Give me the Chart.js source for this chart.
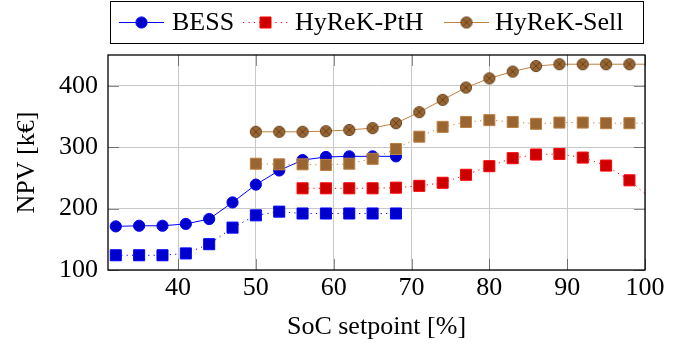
<!DOCTYPE html>
<html><head><meta charset="utf-8">
<script src="https://cdn.jsdelivr.net/npm/chart.js@4.4.1/dist/chart.umd.min.js"></script>
<style>html,body{margin:0;padding:0;background:#fff;}#wrap{width:694px;height:347px;}</style>
</head><body><div id="wrap"><canvas id="c" width="694" height="347"></canvas></div>
<script>
// ---- data ----
const socBESS   = [32,35,38,41,44,47,50,53,56,59,62,65,68];
const npvBESS   = [171,172,172,175,183,210,239,262,279,284,285,285,285];
const npvBESSsq = [124,124,124,127,142,169,189,195,192,192,192,192,192];
const socPtH    = [56,59,62,65,68,71,74,77,80,83,86,89,92,95,98,101];
const npvPtH    = [233,233,233,233,234,237,242,255,269,282,288,289,283,270,246,213];
const socSell   = [50,53,56,59,62,65,68,71,74,77,80,83,86,89,92,95,98,101];
const npvSell   = [325,325,325,326,328,331,339,357,377,397,412,423,432,435,435,435,435,435];
const npvSellSq = [273,272,272,271,273,281,297,317,333,341,344,341,338,340,340,339,339,339];
const xTicks = [40,50,60,70,80,90,100];
const yTicks = [100,200,300,400];
const legendLabels = ['BESS','HyReK-PtH','HyReK-Sell'];
const xTitle = 'SoC setpoint [%]';
const yTitle = 'NPV [k€]';

const FONT_FAMILY = '"Liberation Serif", "DejaVu Serif", serif';
const FS = 26;
const pts = (xs, ys) => xs.map((x, i) => ({x: x, y: ys[i]}));

function makeOtimes(r, fill, stroke) {
  const s = Math.ceil(2 * r + 2);
  const c = document.createElement('canvas');
  c.width = s; c.height = s;
  const g = c.getContext('2d');
  const cx = s / 2, cy = s / 2;
  g.beginPath(); g.arc(cx, cy, r, 0, Math.PI * 2);
  g.fillStyle = fill; g.fill();
  g.lineWidth = 0.9; g.strokeStyle = stroke; g.stroke();
  const d = r * Math.SQRT1_2;
  g.beginPath();
  g.moveTo(cx - d, cy - d); g.lineTo(cx + d, cy + d);
  g.moveTo(cx + d, cy - d); g.lineTo(cx - d, cy + d);
  g.stroke();
  return c;
}
const otimes = makeOtimes(5.6, 'rgb(153,102,51)', 'rgb(95,60,25)');

const BLUE = 'rgb(0,0,255)', BLUE_F = 'rgb(0,0,204)';
const RED = 'rgb(255,0,0)', RED_F = 'rgb(204,0,0)';
const BROWN = 'rgb(191,128,64)', BROWN_F = 'rgb(153,102,51)';
const DOT = [1.2, 4.2];

const datasets = [
  {label: 'HyReK-Sell (sq)', data: pts(socSell, npvSellSq), borderColor: BROWN, borderWidth: 1, borderDash: DOT,
   pointStyle: 'rect', pointRadius: 7.8, pointBackgroundColor: BROWN_F, pointBorderColor: BROWN, pointBorderWidth: 1},
  {label: 'BESS (sq)', data: pts(socBESS, npvBESSsq), borderColor: BLUE, borderWidth: 1, borderDash: DOT,
   pointStyle: 'rect', pointRadius: 7.8, pointBackgroundColor: BLUE_F, pointBorderColor: BLUE, pointBorderWidth: 1},
  {label: legendLabels[1], data: pts(socPtH, npvPtH), borderColor: RED, borderWidth: 1, borderDash: DOT,
   pointStyle: 'rect', pointRadius: 7.8, pointBackgroundColor: RED_F, pointBorderColor: RED, pointBorderWidth: 1},
  {label: legendLabels[2], data: pts(socSell, npvSell), borderColor: BROWN, borderWidth: 1,
   pointStyle: otimes, pointRadius: 5.6, pointBackgroundColor: BROWN_F, pointBorderColor: BROWN, pointBorderWidth: 0},
  {label: legendLabels[0], data: pts(socBESS, npvBESS), borderColor: BLUE, borderWidth: 1,
   pointStyle: 'circle', pointRadius: 5.6, pointBackgroundColor: BLUE_F, pointBorderColor: BLUE, pointBorderWidth: 1}
];

const framePlugin = {
  id: 'frame',
  afterDatasetsDraw(chart) {
    const {ctx, chartArea: a, scales} = chart;
    ctx.save();
    ctx.strokeStyle = 'rgba(0,0,0,0.45)';
    ctx.lineWidth = 1;
    const TL = 11;
    ctx.beginPath();
    xTicks.forEach(v => {
      const p = Math.round(scales.x.getPixelForValue(v)) + 0.5;
      ctx.moveTo(p, a.bottom); ctx.lineTo(p, a.bottom - TL);
      ctx.moveTo(p, a.top); ctx.lineTo(p, a.top + TL);
    });
    yTicks.forEach(v => {
      const p = Math.round(scales.y.getPixelForValue(v)) + 0.5;
      ctx.moveTo(a.left, p); ctx.lineTo(a.left + TL, p);
      ctx.moveTo(a.right, p); ctx.lineTo(a.right - TL, p);
    });
    ctx.stroke();
    ctx.strokeStyle = '#000';
    ctx.lineWidth = 1.3;
    ctx.strokeRect(a.left, a.top, a.right - a.left, a.bottom - a.top);
    ctx.restore();
  }
};

// legend layout (pixel positions of each entry's sample line and text)
const legendSampleX = [119, 243, 444];
const legendTextX = [172, 295, 495];

const legendPlugin = {
  id: 'boxLegend',
  afterDraw(chart) {
    const ctx = chart.ctx;
    ctx.save();
    ctx.font = FS + 'px ' + FONT_FAMILY;
    const box = {l: 110.5, t: 1.5, r: 643.5, b: 43.5};
    ctx.strokeStyle = '#000'; ctx.lineWidth = 1;
    ctx.strokeRect(box.l, box.t, box.r - box.l, box.b - box.t);
    const sampleW = 45;
    const items = legendLabels.map(l => chart.data.datasets.find(d => d.label === l));
    const yMid = 22.5;
    items.forEach((d, i) => {
      const x = legendSampleX[i];
      ctx.save();
      ctx.strokeStyle = d.borderColor; ctx.lineWidth = d.borderWidth;
      ctx.setLineDash(d.borderDash || []);
      ctx.beginPath(); ctx.moveTo(x, yMid); ctx.lineTo(x + sampleW, yMid); ctx.stroke();
      ctx.setLineDash([]);
      ctx.fillStyle = d.pointBackgroundColor; ctx.strokeStyle = d.pointBorderColor;
      ctx.lineWidth = d.pointBorderWidth;
      Chart.helpers.drawPoint(ctx, {pointStyle: d.pointStyle, radius: d.pointRadius, borderWidth: d.pointBorderWidth, rotation: 0}, x + sampleW / 2, yMid);
      ctx.restore();
      ctx.fillStyle = '#000';
      ctx.textBaseline = 'alphabetic';
      ctx.fillText(legendLabels[i], legendTextX[i], 29.5);
    });
    ctx.restore();
  }
};

const font = {family: FONT_FAMILY, size: FS};
new Chart(document.getElementById('c'), {
  type: 'line',
  data: {datasets},
  options: {
    responsive: false, animation: false, events: [],
    layout: {padding: {top: 55, right: 49, left: 0, bottom: 0}},
    plugins: {legend: {display: false}, tooltip: {enabled: false}},
    elements: {line: {tension: 0}},
    scales: {
      x: {
        type: 'linear', min: 31, max: 100,
        afterBuildTicks: s => { s.ticks = xTicks.map(v => ({value: v})); },
        afterFit: s => { s.height = 77; },
        grid: {color: '#c8c8c8', lineWidth: 1, drawTicks: false},
        border: {display: false},
        ticks: {font, color: '#000', padding: 3, maxRotation: 0, autoSkip: false},
        title: {display: true, text: xTitle, font, color: '#000', padding: {top: 0, bottom: 4}}
      },
      y: {
        type: 'linear', min: 100, max: 450,
        afterBuildTicks: s => { s.ticks = yTicks.map(v => ({value: v})); },
        afterFit: s => { s.width = 108; },
        grid: {color: '#c8c8c8', lineWidth: 1, drawTicks: false},
        border: {display: false},
        ticks: {font, color: '#000', padding: 10},
        title: {display: true, text: yTitle, font, color: '#000', padding: {top: 12, bottom: 0}}
      }
    }
  },
  plugins: [framePlugin, legendPlugin]
});
</script></body></html>
